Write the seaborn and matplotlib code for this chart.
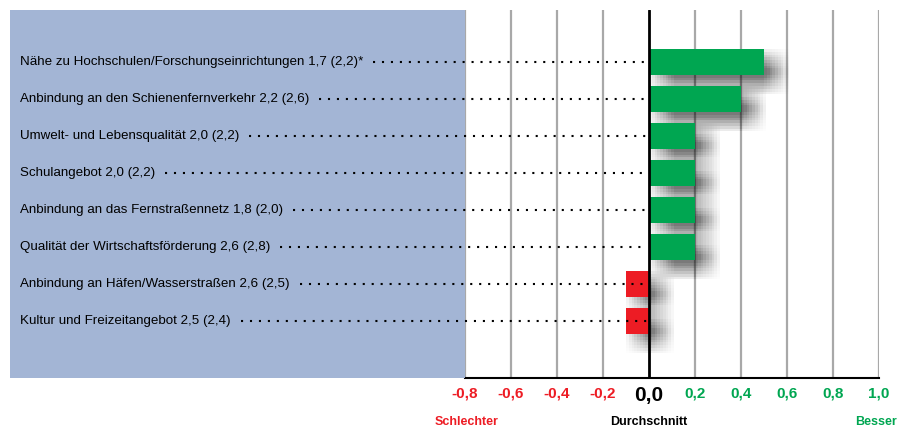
import matplotlib
matplotlib.use("Agg")
import matplotlib.pyplot as plt
import matplotlib.patheffects as pe
from matplotlib.patches import Rectangle
from matplotlib.lines import Line2D
import matplotlib.transforms as mtransforms
import seaborn as sns
import pandas as pd

# Standortfaktoren: Abweichung vom Durchschnitt
labels = [
    "Nähe zu Hochschulen/Forschungseinrichtungen 1,7 (2,2)*",
    "Anbindung an den Schienenfernverkehr 2,2 (2,6)",
    "Umwelt- und Lebensqualität 2,0 (2,2)",
    "Schulangebot 2,0 (2,2)",
    "Anbindung an das Fernstraßennetz 1,8 (2,0)",
    "Qualität der Wirtschaftsförderung 2,6 (2,8)",
    "Anbindung an Häfen/Wasserstraßen 2,6 (2,5)",
    "Kultur und Freizeitangebot 2,5 (2,4)",
]
values = [0.5, 0.4, 0.2, 0.2, 0.2, 0.2, -0.1, -0.1]
tick_values = [-0.8, -0.6, -0.4, -0.2, 0.0, 0.2, 0.4, 0.6, 0.8, 1.0]
tick_labels = ["-0,8", "-0,6", "-0,4", "-0,2", "0,0", "0,2", "0,4", "0,6", "0,8", "1,0"]

GREEN = "#00A651"
RED = "#ED1C24"
BLUE = "#A3B5D5"
FONT = ["Liberation Sans", "DejaVu Sans"]

sns.set_theme(style="white")
plt.rcParams["font.family"] = FONT

W, H = 904, 429
fig = plt.figure(figsize=(W / 100, H / 100), dpi=100)

def fx(px):
    return px / W

def fy(py):
    return 1 - py / H

# left label panel
fig.patches.append(Rectangle((fx(10), fy(378)), fx(465) - fx(10), fy(10) - fy(378),
                             transform=fig.transFigure, facecolor=BLUE,
                             edgecolor="none", zorder=0))

ax = fig.add_axes([fx(465), fy(378), fx(879) - fx(465), fy(10) - fy(378)])
ax.patch.set_alpha(0)

df = pd.DataFrame({"label": labels, "value": values})
colors = {l: (GREEN if v >= 0 else RED) for l, v in zip(labels, values)}
sns.barplot(data=df, x="value", y="label", hue="label", palette=colors,
            order=labels, legend=False, width=0.7, saturation=1, ax=ax, zorder=3)

# soft drop shadow: a grid of faint offset copies approximates a blur
shadow = [pe.SimplePatchShadow(offset=(dx, -dy), shadow_rgbFace="black", alpha=0.0085)
          for dx in range(0, 20, 2) for dy in range(0, 16, 2)]
for bar in ax.patches:
    bar.set_edgecolor("none")
    bar.set_path_effects(shadow + [pe.Normal()])

ax.set_xlim(-0.8, 1.0)
ax.set_ylim(8.54, -1.405)
ax.set_ylabel("")
ax.set_xlabel("")
ax.set_yticks([])

for v in tick_values:
    if v == 0:
        ax.axvline(v, color="black", lw=2, zorder=4)
    else:
        ax.axvline(v, color="#A8A8A8", lw=1.6, zorder=1)

for s in ["top", "right", "left"]:
    ax.spines[s].set_visible(False)
ax.spines["bottom"].set_color("black")
ax.spines["bottom"].set_linewidth(1.5)

ax.set_xticks(tick_values)
ax.set_xticklabels(tick_labels)
ax.tick_params(axis="x", length=0, pad=6)
for t, v in zip(ax.get_xticklabels(), tick_values):
    t.set_fontweight("bold")
    if v == 0:
        t.set_color("black")
        t.set_fontsize(15)
    else:
        t.set_color(RED if v < 0 else GREEN)
        t.set_fontsize(11)

fig.text(fx(467), fy(422), "Schlechter", color=RED, fontsize=9, fontweight="bold",
         ha="center", va="center")
fig.text(fx(649), fy(422), "Durchschnitt", color="black", fontsize=9,
         fontweight="bold", ha="center", va="center")
fig.text(fx(876), fy(422), "Besser", color=GREEN, fontsize=9, fontweight="bold",
         ha="center", va="center")

# category labels with dotted leaders to the zero line
trans = mtransforms.blended_transform_factory(fig.transFigure, ax.transData)
texts = []
for i, lab in enumerate(labels):
    texts.append(fig.text(fx(20), i, lab, transform=trans, fontsize=9.6,
                          ha="left", va="center", color="black"))

fig.canvas.draw()
renderer = fig.canvas.get_renderer()
for i, t in enumerate(texts):
    bb = t.get_window_extent(renderer)
    x0 = (bb.x1 + 10) / W
    line = Line2D([x0, fx(647)], [i, i], transform=trans, color="black", lw=1.5,
                  linestyle=(0, (1, 3.3)), dash_capstyle="butt", zorder=2)
    fig.add_artist(line)

fig.savefig("out.png", dpi=100)
